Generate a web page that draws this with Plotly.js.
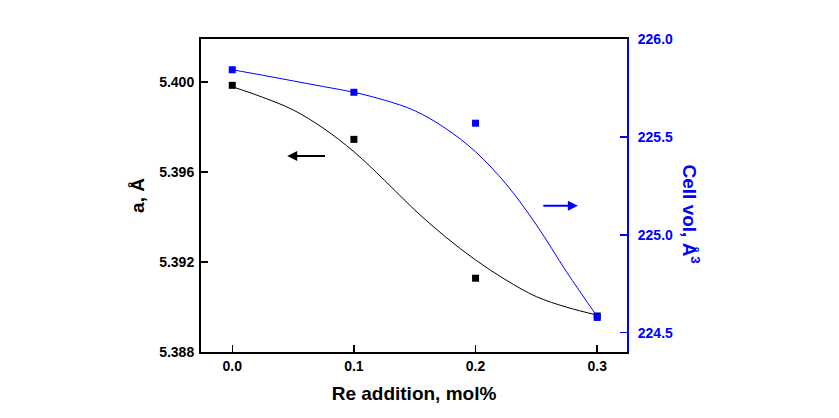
<!DOCTYPE html>
<html>
<head>
<meta charset="utf-8">
<script src="https://cdn.plot.ly/plotly-3.0.1.min.js"></script>
<style>html,body{margin:0;padding:0;background:#fff;}#chart{width:839px;height:418px;}</style>
</head>
<body>
<div id="chart"></div>
<script>
// Measured data
var reAddition = [0.0, 0.1, 0.2, 0.3];
var latticeA = [5.39985, 5.39745, 5.39128, 5.3896];
var cellVol = [225.843, 225.728, 225.570, 224.578];

// Fitted curves
var fitX = [0, 0.025, 0.05, 0.075, 0.1, 0.125, 0.15, 0.175, 0.2, 0.225, 0.25, 0.275, 0.3];
var fitA = [5.39979, 5.39932, 5.39876, 5.39794, 5.39690, 5.39564, 5.39431, 5.39313, 5.39209, 5.39120, 5.39046, 5.38999, 5.38964];
var fitVol = [225.843, 225.815, 225.786, 225.757, 225.728, 225.688, 225.634, 225.545, 225.424, 225.260, 225.051, 224.809, 224.583];

// Tick labels
var xTicks = [0.0, 0.1, 0.2, 0.3];
var xTickText = ['0.0', '0.1', '0.2', '0.3'];
var aTicks = [5.388, 5.392, 5.396, 5.400];
var aTickText = ['5.388', '5.392', '5.396', '5.400'];
var volTicks = [224.5, 225.0, 225.5, 226.0];
var volTickText = ['224.5', '225.0', '225.5', '226.0'];

var FONT = 'Liberation Sans, Arial, sans-serif';
var BLUE = '#0000ff';

var traces = [
  {x: fitX, y: fitA, mode: 'lines', line: {color: '#000', width: 1, shape: 'spline'}, hoverinfo: 'skip', showlegend: false},
  {x: fitX, y: fitVol, yaxis: 'y2', mode: 'lines', line: {color: BLUE, width: 1, shape: 'spline'}, hoverinfo: 'skip', showlegend: false},
  {x: reAddition, y: latticeA, mode: 'markers', marker: {symbol: 'square', size: 7, color: '#000'}, showlegend: false},
  {x: reAddition, y: cellVol, yaxis: 'y2', mode: 'markers', marker: {symbol: 'square', size: 7, color: BLUE}, showlegend: false}
];

var layout = {
  width: 839, height: 418,
  margin: {l: 201, r: 211.5, t: 39, b: 66},
  paper_bgcolor: '#fff', plot_bgcolor: '#fff',
  font: {family: FONT, color: '#000'},
  showlegend: false,
  xaxis: {
    range: [-0.0257, 0.3245], tickvals: xTicks, ticktext: xTickText,
    ticks: 'inside', ticklen: 7, tickwidth: 1.5, tickcolor: '#000',
    showline: true, linecolor: '#000', linewidth: 2, mirror: true,
    showgrid: false, zeroline: false,
    tickfont: {family: FONT, size: 14, color: '#000', weight: 'bold'},
    title: {text: 'Re addition, mol%', font: {family: FONT, size: 19, color: '#000', weight: 'bold'}, standoff: 14}
  },
  yaxis: {
    range: [5.388, 5.40191], tickvals: aTicks, ticktext: aTickText,
    ticks: 'inside', ticklen: 7, tickwidth: 1.5, tickcolor: '#000',
    showline: true, linecolor: '#000', linewidth: 2,
    showgrid: false, zeroline: false, ticklabelstandoff: 2,
    tickfont: {family: FONT, size: 14, color: '#000', weight: 'bold'},
    title: {text: 'a, Å', font: {family: FONT, size: 19, color: '#000', weight: 'bold'}, standoff: 10}
  },
  yaxis2: {
    overlaying: 'y', side: 'right',
    range: [224.4015, 226.0], tickvals: volTicks, ticktext: volTickText,
    ticks: 'inside', ticklen: 7, tickwidth: 1.5, tickcolor: BLUE,
    showline: true, linecolor: BLUE, linewidth: 2,
    showgrid: false, zeroline: false, ticklabelstandoff: 6,
    tickfont: {family: FONT, size: 14, color: BLUE, weight: 'bold'}
  },
  annotations: [
    {xref: 'paper', yref: 'paper', x: 1.1513, y: 0.441, xanchor: 'center', yanchor: 'middle',
     text: 'Cell vol, Å<sup>3</sup>', textangle: 90, showarrow: false,
     font: {family: FONT, size: 19, color: BLUE, weight: 'bold'}},
    {xref: 'x', yref: 'y', axref: 'x', ayref: 'y', x: 0.0452, y: 5.39671, ax: 0.0775, ay: 5.39671,
     text: '', showarrow: true, arrowhead: 2, arrowsize: 1, arrowwidth: 2, arrowcolor: '#000'},
    {xref: 'x', yref: 'y2', axref: 'x', ayref: 'y2', x: 0.2841, y: 225.149, ax: 0.2545, ay: 225.149,
     text: '', showarrow: true, arrowhead: 2, arrowsize: 1, arrowwidth: 2, arrowcolor: BLUE}
  ]
};

Plotly.newPlot('chart', traces, layout, {displayModeBar: false, staticPlot: true});
</script>
</body>
</html>
